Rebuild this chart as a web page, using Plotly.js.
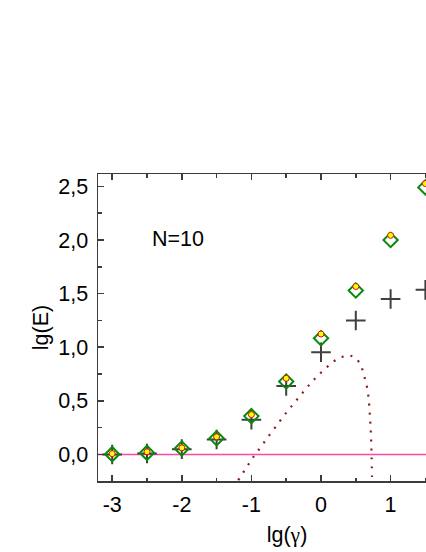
<!DOCTYPE html>
<html>
<head>
<meta charset="utf-8">
<script src="https://cdn.plot.ly/plotly-3.0.1.min.js"></script>
<style>
  html, body { margin: 0; padding: 0; overflow: hidden; background: #fff; }
  #chart { width: 496px; height: 552px; }
</style>
</head>
<body>
<div id="chart"></div>
<script>
// lg(gamma) positions of the measured points
const lgGamma = [-3, -2.5, -2, -1.5, -1, -0.5, 0, 0.5, 1, 1.5];
// open diamonds
const diamondE = [0.003, 0.015, 0.056, 0.152, 0.358, 0.68, 1.084, 1.529, 2.0, 2.49];
// small yellow dots
const dotE = [0.008, 0.025, 0.062, 0.165, 0.372, 0.71, 1.123, 1.566, 2.043, 2.526];
// crosses
const crossE = [0.0, 0.01, 0.05, 0.14, 0.325, 0.638, 0.953, 1.249, 1.449, 1.535];

// dotted curve
const curveX = [-1.19, -1.06, -0.99, -0.91, -0.77, -0.61, -0.48, -0.36, -0.24, -0.12, 0, 0.18, 0.31, 0.42, 0.50, 0.575, 0.62, 0.66, 0.684, 0.704, 0.718, 0.727, 0.733];
const curveE = [-0.24, -0.11, -0.04, 0.03, 0.155, 0.295, 0.405, 0.50, 0.594, 0.685, 0.763, 0.866, 0.912, 0.921, 0.897, 0.825, 0.732, 0.632, 0.523, 0.351, 0.18, -0.02, -0.21];

const xTicks = [-3, -2, -1, 0, 1];
const xTickText = ['-3', '-2', '-1', '0', '1'];

const font = { family: 'Liberation Sans, Arial, sans-serif', size: 21.5, color: '#000' };
const axisColor = '#3c3c3c';

const traces = [
  {
    x: [-3.5, 3], y: [0, 0],
    mode: 'lines',
    line: { color: '#ff4aa5', width: 1.6 },
    hoverinfo: 'skip'
  },
  {
    x: curveX, y: curveE,
    mode: 'lines',
    line: { color: '#8b1a1a', width: 2.2, dash: '2px,7px', shape: 'spline' }
  },
  {
    x: lgGamma, y: crossE,
    mode: 'markers',
    marker: { symbol: 'cross-thin-open', size: 14, color: '#404040', line: { color: '#404040', width: 2 } }
  },
  {
    x: lgGamma, y: diamondE,
    mode: 'markers',
    marker: { symbol: 'diamond-open', size: 11, color: '#0a8a0a', line: { color: '#0a8a0a', width: 2 } }
  },
  {
    x: lgGamma, y: dotE,
    mode: 'markers',
    marker: { symbol: 'circle', size: 6, color: '#ffff00', line: { color: '#d01010', width: 1 } }
  }
];

const layout = {
  width: 496,
  height: 552,
  margin: { l: 98, r: 20, t: 174, b: 71 },
  paper_bgcolor: '#fff',
  plot_bgcolor: '#fff',
  showlegend: false,
  separators: ',.',
  font: font,
  xaxis: {
    range: [-3.204, 2.227],
    tickvals: xTicks,
    ticktext: xTickText,
    ticks: 'inside',
    ticklen: 6,
    tickwidth: 1.5,
    tickcolor: axisColor,
    minor: { dtick: 0.5, ticks: 'inside', ticklen: 3.5, tickwidth: 1.5, tickcolor: axisColor },
    showline: true,
    linecolor: axisColor,
    linewidth: 1.5,
    mirror: 'ticks',
    showgrid: false,
    zeroline: false,
    ticklabelstandoff: 4,
    tickfont: font,
    title: { text: 'lg(<span style="font-family:Liberation Serif">γ</span>)', font: font, standoff: 10 }
  },
  yaxis: {
    range: [-0.247, 2.615],
    dtick: 0.5,
    tickformat: '.1f',
    ticks: 'inside',
    ticklen: 6,
    tickwidth: 1.5,
    tickcolor: axisColor,
    minor: { dtick: 0.25, ticks: 'inside', ticklen: 3.5, tickwidth: 1.5, tickcolor: axisColor },
    showline: true,
    linecolor: axisColor,
    linewidth: 1.5,
    mirror: 'ticks',
    showgrid: false,
    zeroline: false,
    ticklabelstandoff: 4,
    tickfont: font,
    title: { text: 'lg(E)', font: font, standoff: 4 }
  },
  annotations: [
    {
      x: -2.45, y: 2.01, xref: 'x', yref: 'y',
      xanchor: 'left', yanchor: 'middle',
      text: 'N=10', showarrow: false, font: font
    }
  ]
};

Plotly.newPlot('chart', traces, layout, { displayModeBar: false, staticPlot: true });
</script>
</body>
</html>
